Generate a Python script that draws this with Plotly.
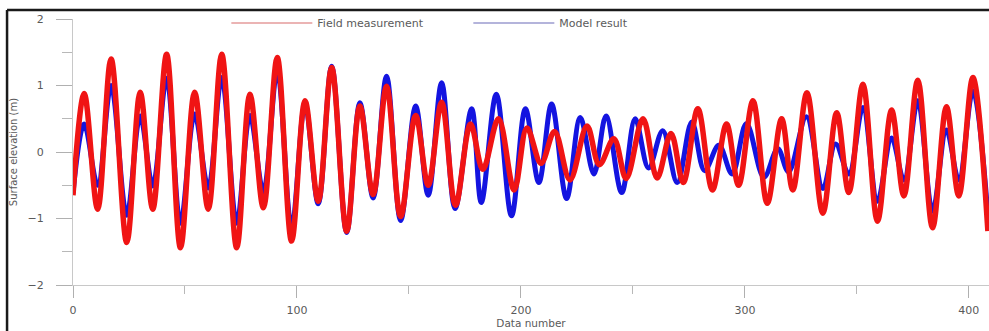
import plotly.graph_objects as go

# Extrema (data number, surface elevation in m)
field_x = [0, 5, 11, 17, 24, 30, 35.6, 41.8, 48, 54.3, 60.4, 66.4, 73.1, 79, 85, 91.2, 97.6,
           103.6, 109.5, 115.5, 122.2, 128.1, 134, 140, 146.3, 153, 158.6, 164.6, 170.8, 177.5,
           183, 190, 197, 202.7, 209, 215, 221.9, 229.5, 235, 241.5, 247, 254.5, 260.8, 267,
           272.5, 279, 285.5, 291.8, 297.2, 303.6, 310, 316.4, 321.4, 327.7, 334.8, 341, 346.4,
           352.7, 359.2, 365.5, 371, 377.2, 383.8, 390, 395.5, 401.8, 408.5]
field_y = [-0.65, 0.88, -0.86, 1.40, -1.36, 0.90, -0.86, 1.47, -1.44, 0.90, -0.86, 1.47, -1.44,
           0.87, -0.84, 1.42, -1.34, 0.77, -0.74, 1.27, -1.19, 0.69, -0.64, 0.99, -0.97, 0.55,
           -0.50, 0.75, -0.80, 0.42, -0.26, 0.50, -0.57, 0.36, -0.17, 0.31, -0.42, 0.39, -0.19,
           0.20, -0.40, 0.50, -0.39, 0.28, -0.46, 0.65, -0.57, 0.42, -0.50, 0.77, -0.77, 0.50,
           -0.57, 0.89, -0.92, 0.59, -0.61, 1.02, -1.04, 0.63, -0.66, 1.08, -1.14, 0.68, -0.66,
           1.12, -1.19]

model_x = [0, 5, 11, 17, 24, 30, 35.6, 41.8, 48, 54.3, 60.4, 66.4, 73.1, 79, 85, 91.2, 97.6,
           103.6, 109.5, 115.5, 122.2, 128.1, 134, 140, 146.3, 153, 158.6, 164.6, 170.6, 178,
           182.3, 189, 195.8, 202, 208, 213.7, 220.4, 226.5, 232.6, 238, 245, 251, 257, 263.3,
           269.8, 276.3, 282, 288.4, 294.3, 300.7, 308.5, 314.7, 319.5, 327.5, 334.8, 340.5,
           346.4, 352.7, 359.2, 365.5, 371, 377.2, 383.8, 390, 395.5, 401.8, 408.5]
model_y = [-0.62, 0.42, -0.50, 1.00, -0.95, 0.54, -0.51, 1.11, -1.07, 0.57, -0.54, 1.12, -1.07,
           0.55, -0.60, 1.22, -1.14, 0.72, -0.78, 1.29, -1.21, 0.74, -0.69, 1.14, -1.03, 0.69,
           -0.65, 1.04, -0.85, 0.65, -0.76, 0.87, -0.96, 0.65, -0.46, 0.72, -0.70, 0.52, -0.33,
           0.54, -0.61, 0.50, -0.24, 0.32, -0.46, 0.45, -0.28, 0.10, -0.33, 0.43, -0.38, 0.05,
           -0.30, 0.53, -0.55, 0.12, -0.33, 0.67, -0.74, 0.21, -0.42, 0.77, -0.89, 0.33, -0.42,
           0.92, -0.95]

x_tick_vals = [0, 100, 200, 300, 400]
y_tick_vals = [-2, -1, 0, 1, 2]

RED = "#f01414"
BLUE = "#1414e0"
FONT = "DejaVu Sans"
GREY = "#5a5a5a"

fig = go.Figure()
fig.add_trace(go.Scatter(x=model_x, y=model_y, mode="lines", name="Model result",
                         line=dict(color=BLUE, width=5, shape="spline", smoothing=1.0),
                         showlegend=False, hoverinfo="x+y"))
fig.add_trace(go.Scatter(x=field_x, y=field_y, mode="lines", name="Field measurement",
                         line=dict(color=RED, width=5.5, shape="spline", smoothing=1.0),
                         showlegend=False, hoverinfo="x+y"))
# legend entries drawn with thin lines, like the reference
fig.add_trace(go.Scatter(x=[None], y=[None], mode="lines", name="Field measurement",
                         line=dict(color="#d86a6a", width=1.2)))
fig.add_trace(go.Scatter(x=[None], y=[None], mode="lines", name="Model result",
                         line=dict(color="#6a6ab8", width=1.2)))

fig.update_layout(
    width=989, height=331,
    margin=dict(l=73, r=0, t=19, b=46),
    paper_bgcolor="white", plot_bgcolor="white",
    font=dict(family=FONT, size=11, color=GREY),
    legend=dict(orientation="h", x=0.1674, xanchor="left", y=0.985, yanchor="middle",
                itemwidth=81, entrywidth=146, bgcolor="rgba(0,0,0,0)",
                font=dict(family=FONT, size=11, color=GREY), tracegroupgap=0),
    xaxis=dict(range=[0, 409], showgrid=False, zeroline=False, showline=True,
               linecolor="#c8c8c8", linewidth=1, ticks="outside", ticklen=12,
               tickcolor="#b0b0b0", tickvals=x_tick_vals, ticklabelstandoff=3,
               tickfont=dict(size=11),
               minor=dict(dtick=50, tick0=0, ticks="outside", ticklen=8, tickcolor="#b8b8b8"),
               title=dict(text="Data number", font=dict(size=10.5, color=GREY), standoff=2)),
    yaxis=dict(range=[-2, 2], showgrid=False, zeroline=False, showline=True,
               linecolor="#c8c8c8", linewidth=1, ticks="outside", ticklen=16,
               tickcolor="#b0b0b0", tickvals=y_tick_vals, ticklabelstandoff=10,
               minor=dict(dtick=0.5, tick0=0, ticks="outside", ticklen=10, tickcolor="#b8b8b8"),
               title=dict(text="Surface elevation (m)", font=dict(size=10, color=GREY), standoff=8)),
    shapes=[
        dict(type="line", xref="paper", yref="paper", x0=-0.072, x1=1.0, y0=1.0338, y1=1.0338,
             line=dict(color="#1a1a1a", width=2.5)),
        dict(type="line", xref="paper", yref="paper", x0=-0.072, x1=-0.072, y0=1.0338, y1=-0.2,
             line=dict(color="#1a1a1a", width=2.5)),
    ],
)

fig.write_html("out.html", config={"displayModeBar": False},
               post_script="document.body.style.margin='0';document.body.style.padding='0';"
                           "document.body.style.overflow='hidden';")
